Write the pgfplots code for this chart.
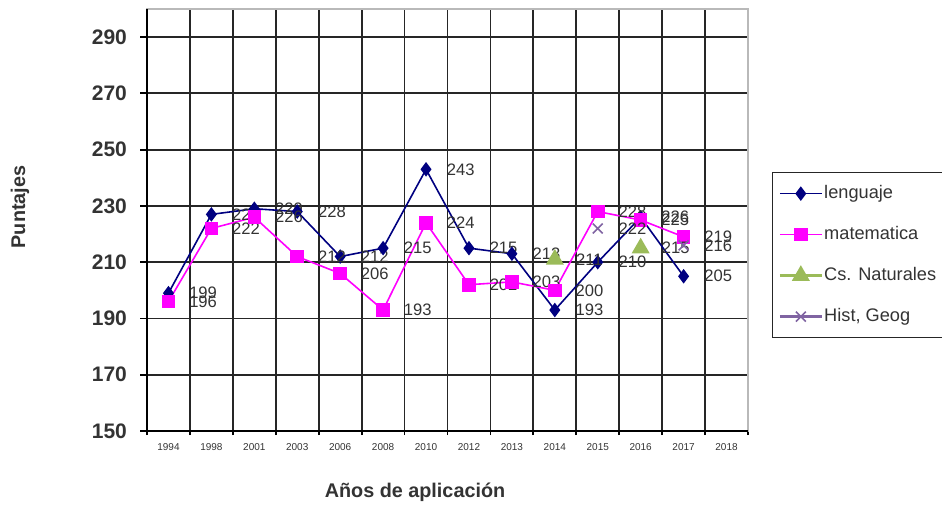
\documentclass[border=0pt]{standalone}
\usepackage{fontspec}
\setmainfont{Liberation Sans}
\usepackage{pgfplots}
\pgfplotsset{compat=1.18}
\definecolor{lengcol}{HTML}{000080}
\definecolor{matecol}{HTML}{FF00FF}
\definecolor{cnatcol}{HTML}{9BBB59}
\definecolor{histcol}{HTML}{8064A2}
\definecolor{lbl}{HTML}{333333}
\begin{document}
\begin{tikzpicture}
\useasboundingbox (0,0) rectangle (471pt,252pt);
\begin{axis}[
  at={(73.5pt,36.5pt)}, anchor=south west,
  scale only axis, width=300.5pt, height=211pt,
  xmin=-0.5, xmax=13.5, ymin=150, ymax=300,
  xtick={0,...,13},
  xticklabels={1994,1998,2001,2003,2006,2008,2010,2012,2013,2014,2015,2016,2017,2018},
  minor xtick={-0.5,0.5,...,13.5},
  xminorgrids, ymajorgrids,
  ytick={150,170,...,290},
  tick pos=left,
  tick align=outside,
  major tick length=3.5pt, minor tick length=2pt,
  major x tick style={draw=none},
  major y tick style={black, line width=0.9pt},
  minor x tick style={black, line width=0.9pt},
  grid style={black!85, line width=0.9pt},
  minor grid style={black!85, line width=0.9pt},
  axis line style={gray!55, line width=1pt},
  /pgf/number format/assume math mode=true,
  /pgf/number format/.cd, fixed, precision=0, /pgfplots/.cd,
  yticklabel style={font=\bfseries\fontsize{10.5}{12}\selectfont, text=lbl, xshift=-3pt},
  xticklabel style={font=\fontsize{5}{6}\selectfont, text=lbl, yshift=1pt},
  unbounded coords=jump,
  nodes near coords,
  every node near coord/.append style={anchor=west, xshift=10pt, yshift=0pt, inner sep=0pt, font=\fontsize{8.3}{10}\selectfont, text=lbl},
  legend image code/.code={\draw[#1, mark repeat=2, mark phase=2] plot coordinates {(0pt,0pt) (10.5pt,0pt) (21pt,0pt)};},
  legend style={at={(1.04,0.6137)}, anchor=north west, draw=black!85, line width=0.6pt,
    font=\fontsize{9.1}{11}\selectfont, text=lbl, row sep=7.5pt, inner xsep=3pt, inner ysep=4pt,
    nodes={inner ysep=2pt, inner xsep=0.6pt, text height=7pt, text depth=2pt}},
  legend cell align=left,
  clip=false,
]
\draw[black, line width=0.9pt] (rel axis cs:0,1) -- (rel axis cs:0,0) -- (rel axis cs:1,0);
\addplot[lengcol, line width=0.8pt, mark=diamond*, mark size=3pt] coordinates {
 (0,199)(1,227)(2,229)(3,228)(4,212)(5,215)(6,243)(7,215)(8,213)(9,193)(10,210)(11,226)(12,205)};
\addlegendentry{lenguaje}
\addplot[matecol, line width=0.8pt, mark=square*, mark size=3pt] coordinates {
 (0,196)(1,222)(2,226)(3,212)(4,206)(5,193)(6,224)(7,202)(8,203)(9,200)(10,228)(11,225)(12,219)};
\addlegendentry{matematica}
\addplot[cnatcol, line width=1.2pt, mark=triangle*, mark size=4pt] coordinates {
 (9,211)(10,nan)(11,215)};
\addlegendentry{Cs. Naturales}
\addplot[histcol, line width=1.2pt, mark=x, mark size=3.5pt, mark options={line width=0.8pt}] coordinates {
 (10,222)(11,nan)(12,216)};
\addlegendentry{Hist, Geog}
\end{axis}
\node[rotate=90, font=\bfseries\fontsize{9.9}{12}\selectfont, text=lbl] at (10pt,148.5pt) {Puntajes};
\node[font=\bfseries\fontsize{9.9}{12}\selectfont, text=lbl] at (207.5pt,6pt) {Años de aplicación};
\end{tikzpicture}
\end{document}
